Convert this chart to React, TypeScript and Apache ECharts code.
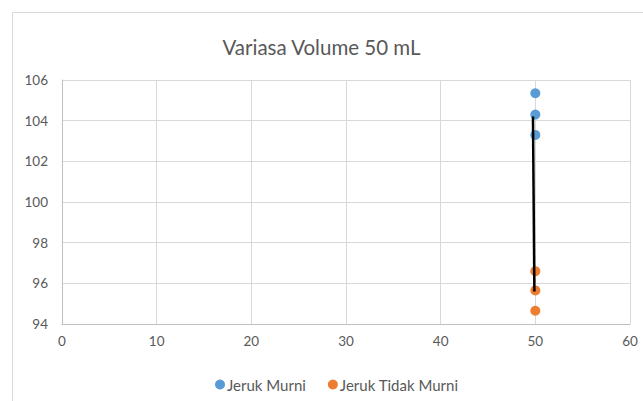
import React, { useEffect, useRef } from "react";
import * as echarts from "echarts";

const murniX = [50, 50, 50];
const murniY = [105.35, 104.3, 103.3];
const tidakX = [50, 50, 50];
const tidakY = [96.6, 95.65, 94.65];
const lineX = [49.75, 49.9];
const lineY = [104.2, 95.6];

const FONT = "Lato, 'Open Sans', sans-serif";

export default function App() {
  const ref = useRef<HTMLDivElement>(null);
  useEffect(() => {
    if (!ref.current) return;
    document.body.style.margin = "0";
    document.body.style.overflow = "hidden";
    const chart = echarts.init(ref.current, null, { renderer: "svg" });
    chart.setOption({
      animation: false,
      backgroundColor: "#fff",
      textStyle: { fontFamily: FONT },
      title: {
        text: "Variasa Volume 50 mL",
        left: "center",
        top: 31,
        textStyle: { fontFamily: FONT, fontSize: 20.5, fontWeight: "normal", color: "#595959" },
      },
      graphic: [
        {
          type: "rect",
          shape: { x: 12.5, y: 12.5, width: 700, height: 500 },
          style: { fill: "none", stroke: "#d9d9d9", lineWidth: 1 },
          silent: true,
          z: -1,
        },
      ],
      legend: {
        data: ["Jeruk Murni", "Jeruk Tidak Murni"],
        left: 210,
        top: 372,
        icon: "circle",
        itemWidth: 10,
        itemHeight: 10,
        itemGap: 22,
        textStyle: { fontFamily: FONT, fontSize: 15, color: "#595959", padding: [0, 0, 0, -3] },
      },
      grid: { left: 62, top: 80, right: 13, bottom: 77, containLabel: false },
      xAxis: {
        type: "value",
        min: 0,
        max: 60,
        interval: 10,
        axisLine: { show: true, lineStyle: { color: "#bfbfbf" } },
        axisTick: { show: false },
        splitLine: { show: true, lineStyle: { color: "#d9d9d9" } },
        axisLabel: { fontFamily: FONT, fontSize: 13.5, color: "#595959", margin: 10 },
      },
      yAxis: {
        type: "value",
        min: 94,
        max: 106,
        interval: 2,
        axisLine: { show: true, lineStyle: { color: "#bfbfbf" } },
        axisTick: { show: false },
        splitLine: { show: true, lineStyle: { color: "#d9d9d9" } },
        axisLabel: { fontFamily: FONT, fontSize: 13.5, color: "#595959", margin: 14 },
      },
      series: [
        {
          name: "Jeruk Murni",
          type: "scatter",
          symbol: "circle",
          symbolSize: 10,
          itemStyle: { color: "#5b9bd5", opacity: 1 },
          data: murniX.map((x, i) => [x, murniY[i]]),
          z: 2,
        },
        {
          name: "Jeruk Tidak Murni",
          type: "scatter",
          symbol: "circle",
          symbolSize: 10,
          itemStyle: { color: "#ed7d31", opacity: 1 },
          data: tidakX.map((x, i) => [x, tidakY[i]]),
          z: 2,
        },
        {
          name: "garis",
          type: "line",
          showSymbol: false,
          symbol: "none",
          lineStyle: { color: "#000", width: 2.5 },
          data: lineX.map((x, i) => [x, lineY[i]]),
          z: 3,
        },
      ],
    });
    return () => chart.dispose();
  }, []);
  return <div ref={ref} style={{ width: 643, height: 401 }} />;
}
